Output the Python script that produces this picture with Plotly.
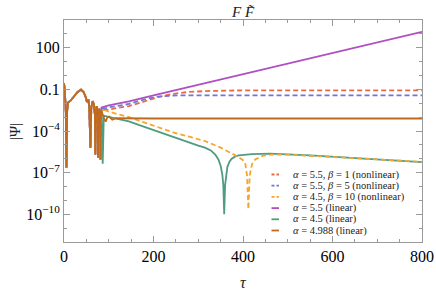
import plotly.graph_objects as go

# ---- data (log10 |Psi|) ----
# shared early oscillation (all six runs coincide)
early_tau = [0, 2, 4, 5.5, 7, 9, 15, 22, 30, 38, 44, 49, 51, 54.5, 56.5, 59, 61, 64, 67, 69, 70, 71,
             73, 75, 76, 77, 79, 80.5, 81.5, 82.5]
early_log = [-0.54, -1.2, -2.6, -6.64, -2.6, -1.95, -1.8, -1.55, -1.2, -1.02, -1.2, -1.6, -1.9, -1.74,
             -2.3, -5.2, -2.3, -1.85, -2.1, -2.8, -5.69, -2.8, -2.2, -2.7, -5.92, -2.7, -2.4, -2.9,
             -6.05, -2.8]

red_tau = [84, 100, 120, 145, 170, 210, 244, 280, 319, 380, 500, 800]
red_log = [-2.5, -2.45, -2.35, -2.2, -1.97, -1.55, -1.32, -1.18, -1.12, -1.08, -1.07, -1.07]

blue_tau = [84, 100, 120, 145, 170, 208, 244, 300, 800]
blue_log = [-2.4, -2.3, -2.2, -2.05, -1.8, -1.52, -1.44, -1.43, -1.43]

orange_tau = [84, 89, 110, 141, 170, 244, 315, 350, 386, 400, 405, 409, 412, 415, 420, 427, 445,
              464, 500, 600, 700, 800]
orange_log = [-2.6, -2.48, -2.7, -2.96, -3.29, -4.1, -4.72, -5.2, -5.81, -6.1, -6.35, -7.2, -9.64,
              -7.2, -6.4, -6.05, -5.78, -5.7, -5.7, -5.86, -6.03, -6.22]

purple_tau = [84, 100, 145, 200, 349, 500, 650, 800]
purple_log = [-2.3, -2.15, -1.86, -1.44, -0.30, 0.86, 2.0, 3.15]

green_tau = [84, 86.5, 89, 97, 120, 145, 170, 210, 244, 280, 300, 315, 328, 338, 345, 350, 354, 356,
             358, 360, 362, 365, 370, 375, 382, 390, 420, 460, 550, 650, 800]
green_log = [-2.8, -6.36, -2.9, -2.96, -3.1, -3.3, -3.6, -4.05, -4.47, -4.85, -5.05, -5.2, -5.4, -5.7,
             -6.05, -6.5, -7.2, -7.9, -10.0, -7.9, -7.2, -6.6, -6.2, -6.0, -5.85, -5.76, -5.66,
             -5.63, -5.75, -5.95, -6.24]

brown_tau = [84, 85.6, 89, 93, 97, 100.6, 104, 108, 116, 200, 800]
brown_log = [-2.5, -2.72, -3.1, -3.32, -3.0, -2.96, -3.1, -3.19, -3.08, -3.1, -3.1]

legend_names = [
    "<i>α</i> = 5.5, <i>β</i> = 1 (nonlinear)",
    "<i>α</i> = 5.5, <i>β</i> = 5 (nonlinear)",
    "<i>α</i> = 4.5, <i>β</i> = 10 (nonlinear)",
    "<i>α</i> = 5.5 (linear)",
    "<i>α</i> = 4.5 (linear)",
    "<i>α</i> = 4.988 (linear)",
]
y_tick_vals = [1e-10, 1e-7, 1e-4, 0.1, 100]
y_tick_text = ["10<sup>−10</sup>", "10<sup>−7</sup>", "10<sup>−4</sup>", "0.1", "100"]
x_tick_vals = [0, 200, 400, 600, 800]

# ---- styling ----
colors = ["#ec6a3c", "#6b78d6", "#f7a52c", "#b04fc4", "#4f9c80", "#c06a1e"]
dashes = ["5px,3px", "5px,3px", "5px,3px", "solid", "solid", "solid"]
series = [(red_tau, red_log), (blue_tau, blue_log), (orange_tau, orange_log),
          (purple_tau, purple_log), (green_tau, green_log), (brown_tau, brown_log)]
draw_order = [4, 3, 0, 1, 2, 5]
SERIF = "Liberation Serif, Times New Roman, serif"
GRAY = "#9a9a9a"

fig = go.Figure()
for i in draw_order:
    t, lg = series[i]
    xs = early_tau + t
    ys = [10 ** v for v in early_log + lg]
    fig.add_trace(go.Scatter(x=xs, y=ys, mode="lines", showlegend=False,
                             line=dict(color=colors[i], width=1.8, dash=dashes[i]),
                             name=legend_names[i]))

# manual compact legend (paper coordinates)
W, H, L, T = 436, 290, 64, 20
PW, PH = 358, 222
def px(x):
    return (x - L) / PW
def py(y):
    return (T + PH - y) / PH
for k, name in enumerate(legend_names):
    yc = 174.5 + 11.2 * k
    fig.add_shape(type="line", xref="paper", yref="paper", x0=px(271.5), x1=px(279),
                  y0=py(yc), y1=py(yc),
                  line=dict(color=colors[k], width=1.8,
                            dash="3px,2px" if dashes[k] != "solid" else "solid"))
    fig.add_annotation(xref="paper", yref="paper", x=px(291), y=py(yc), text=name,
                       showarrow=False, xanchor="left", yanchor="middle",
                       font=dict(family=SERIF, size=10.5, color="#222"))

# axis titles placed as text
fig.add_annotation(xref="paper", yref="paper", x=px(243), y=py(282), text="<i>τ</i>",
                   showarrow=False, xanchor="center", yanchor="middle",
                   font=dict(family=SERIF, size=16, color="#222"))
fig.add_annotation(xref="paper", yref="paper", x=px(15), y=py(132), text="|Ψ|",
                   showarrow=False, xanchor="center", yanchor="middle", textangle=-90,
                   font=dict(family=SERIF, size=15, color="#222"))

axis_common = dict(showline=True, linecolor=GRAY, linewidth=1, mirror="allticks",
                   ticks="inside", tickcolor=GRAY, showgrid=False, zeroline=False,
                   automargin=False,
                   tickfont=dict(family=SERIF, size=16, color="black"))

fig.update_layout(
    width=W, height=H,
    margin=dict(l=L, r=W - L - PW, t=T, b=H - T - PH),
    plot_bgcolor="white", paper_bgcolor="white",
    title=dict(text="<i>F</i> <i>F̃</i>", x=(L + PW / 2) / W, xanchor="center",
               y=1 - 12 / H, yanchor="middle",
               font=dict(family=SERIF, size=15, color="#222")),
    xaxis=dict(range=[0, 800], tickvals=x_tick_vals, ticklen=6,
               minor=dict(dtick=50, tick0=0, ticks="inside", ticklen=3, tickcolor=GRAY),
               **axis_common),
    yaxis=dict(type="log", range=[-12, 4], tickvals=y_tick_vals, ticktext=y_tick_text,
               ticklen=6,
               minor=dict(tickvals=[10.0 ** k for k in range(-12, 5)], ticks="inside",
                          ticklen=3, tickcolor=GRAY),
               **axis_common),
)

fig.write_html("out.html", config={"displayModeBar": False},
               post_script="document.body.style.margin='0';")
